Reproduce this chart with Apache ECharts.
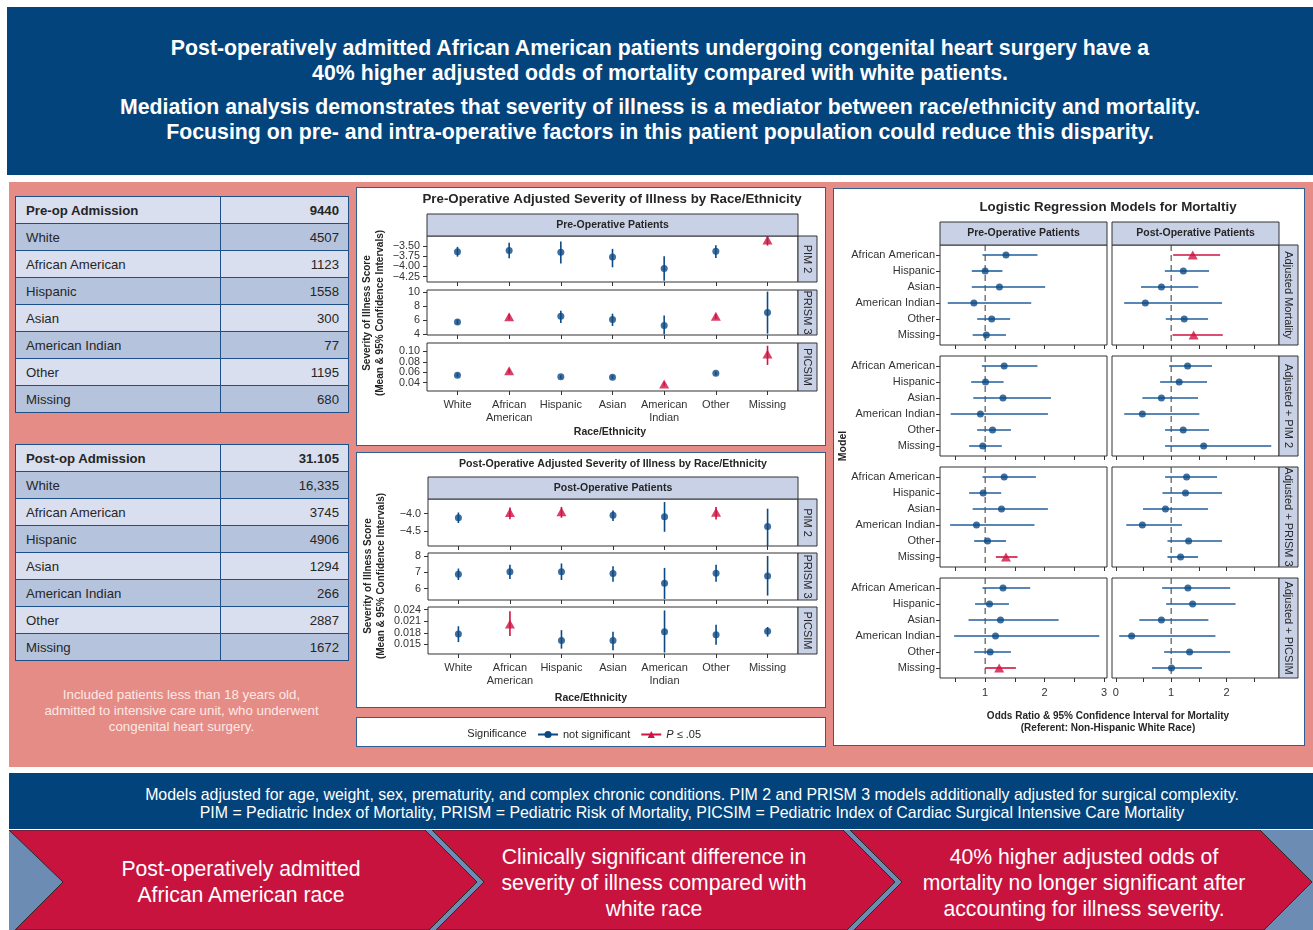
<!DOCTYPE html>
<html>
<head>
<meta charset="utf-8">
<script src="https://cdn.jsdelivr.net/npm/echarts@6/dist/echarts.min.js"></script>
<style>
  html, body { margin: 0; padding: 0; background: #fff; }
  body { width: 1313px; height: 930px; position: relative; overflow: hidden;
         font-family: 'Liberation Sans', Arial, Helvetica, sans-serif; }
  .abs { position: absolute; box-sizing: border-box; }
  #header { left: 7px; top: 7px; width: 1306px; height: 168px; background: #03447d; color: #fff;
            font-weight: bold; font-size: 21.3px; line-height: 25px; text-align: center; }
  #header p { margin: 0; position: absolute; left: 0; width: 100%; }
  #pink { left: 9px; top: 182px; width: 1304px; height: 585px; background: #e58c86; }
  .box { background: #fff; border: 1.5px solid #2e5e94; }
  table.counts { position: absolute; left: 15px; width: 333px; border-collapse: collapse; table-layout: fixed;
                 font-size: 13.2px; color: #262626; }
  table.counts td { height: 26px; border: 1.5px solid #1d4f89; padding: 0 9px 0 10px; white-space: nowrap; }
  table.counts td.n { text-align: right; }
  table.counts tr.lt td { background: #d9dfee; }
  table.counts tr.dk td { background: #b6c3dd; }
  table.counts tr.hd td { font-weight: bold; }
  #note { left: 15px; top: 687px; width: 333px; text-align: center; color: #fde8e5; font-size: 13.3px; line-height: 16px; }
  #banner { left: 9px; top: 773px; width: 1304px; height: 56px; background: #03437c; color: #fff;
            font-size: 15.9px; line-height: 18px; text-align: center; padding: 13px 0 0 62px; }
  #chev { position: absolute; left: 0; top: 830px; }
  #chart { position: absolute; left: 0; top: 0; width: 1313px; height: 930px; }
</style>
</head>
<body>
<div id="header" class="abs">
  <p style="top:28.5px">Post-operatively admitted African American patients undergoing congenital heart surgery have a<br>40% higher adjusted odds of mortality compared with white patients.</p>
  <p style="top:88px">Mediation analysis demonstrates that severity of illness is a mediator between race/ethnicity and mortality.<br>Focusing on pre- and intra-operative factors in this patient population could reduce this disparity.</p>
</div>
<div id="pink" class="abs"></div>
<div class="abs box" style="left:356px;top:187px;width:470px;height:259px"></div>
<div class="abs box" style="left:356px;top:452px;width:470px;height:256px"></div>
<div class="abs box" style="left:356px;top:717px;width:470px;height:30px"></div>
<div class="abs box" style="left:833px;top:188px;width:472px;height:558px"></div>
<div id="tables"></div>
<div id="note" class="abs">Included patients less than 18 years old,<br>admitted to intensive care unit, who underwent<br>congenital heart surgery.</div>
<div id="banner" class="abs">Models adjusted for age, weight, sex, prematurity, and complex chronic conditions. PIM 2 and PRISM 3 models additionally adjusted for surgical complexity.<br>PIM = Pediatric Index of Mortality, PRISM = Pediatric Risk of Mortality, PICSIM = Pediatric Index of Cardiac Surgical Intensive Care Mortality</div>
<svg id="chev" width="1313" height="100" xmlns="http://www.w3.org/2000/svg">
  <rect x="9" y="0" width="1304" height="100" fill="#6d8cb3"/>
  <g fill="#c9133f" stroke="#2a2a2a" stroke-width="1">
    <polygon points="9,0 425,0 477,52 429,100 15,100 63,52"/>
    <polygon points="432,0 843,0 895,52 847,100 436,100 484,52"/>
    <polygon points="850,0 1260,0 1312,52 1264,100 854,100 902,52"/>
  </g>
  <g fill="#fff" font-family="'Liberation Sans', Arial, Helvetica, sans-serif" font-size="21.2" text-anchor="middle" dominant-baseline="central">
    <text x="241" y="38">Post-operatively admitted</text>
    <text x="241" y="64">African American race</text>
    <text x="654" y="26">Clinically significant difference in</text>
    <text x="654" y="52">severity of illness compared with</text>
    <text x="654" y="78">white race</text>
    <text x="1084" y="26">40% higher adjusted odds of</text>
    <text x="1084" y="52">mortality no longer significant after</text>
    <text x="1084" y="78">accounting for illness severity.</text>
  </g>
</svg>
<div id="chart"></div>
<script>
// ---------- admission counts ----------
const races = ['White', 'African American', 'Hispanic', 'Asian', 'American Indian', 'Other', 'Missing'];
const preopTitle = 'Pre-op Admission';
const preopTotal = '9440';
const preopCounts = ['4507', '1123', '1558', '300', '77', '1195', '680'];
const postopTitle = 'Post-op Admission';
const postopTotal = '31.105';
const postopCounts = ['16,335', '3745', '4906', '1294', '266', '2887', '1672'];

// ---------- adjusted severity of illness: rows are [mean, lower CI, upper CI, P <= .05] ----------
const raceAxisLabels = ['White', 'African\nAmerican', 'Hispanic', 'Asian', 'American\nIndian', 'Other', 'Missing'];
const prePim2 = [[-3.64, -3.76, -3.52, 0], [-3.61, -3.80, -3.42, 0], [-3.65, -3.93, -3.39, 0], [-3.77, -4.02, -3.57, 0],
                 [-4.05, -4.35, -3.75, 0], [-3.63, -3.79, -3.48, 0], [-3.35, -3.49, -3.25, 1]];
const prePrism3 = [[5.76, 5.40, 6.10, 0], [6.50, 6.10, 6.90, 1], [6.57, 5.62, 7.38, 0], [6.10, 5.20, 6.95, 0],
                   [5.24, 4.00, 6.67, 0], [6.57, 6.20, 6.90, 1], [7.10, 4.10, 10.10, 0]];
const prePicsim = [[0.054, 0.051, 0.058, 0], [0.063, 0.058, 0.067, 1], [0.051, 0.048, 0.054, 0], [0.050, 0.047, 0.054, 0],
                   [0.037, 0.034, 0.041, 1], [0.058, 0.054, 0.061, 0], [0.095, 0.074, 0.111, 1]];
const postPim2 = [[-4.12, -4.27, -3.97, 0], [-3.97, -4.16, -3.83, 1], [-3.95, -4.12, -3.81, 1], [-4.05, -4.21, -3.91, 0],
                  [-4.09, -4.52, -3.67, 0], [-3.96, -4.17, -3.81, 1], [-4.37, -4.95, -3.86, 0]];
const postPrism3 = [[6.89, 6.53, 7.23, 0], [7.03, 6.59, 7.47, 0], [7.03, 6.53, 7.54, 0], [6.93, 6.42, 7.37, 0],
                    [6.34, 5.37, 7.27, 0], [6.95, 6.42, 7.47, 0], [6.77, 5.58, 8.00, 0]];
const postPicsim = [[0.0177, 0.0156, 0.0197, 0], [0.0203, 0.0172, 0.0236, 1], [0.0160, 0.0139, 0.0187, 0], [0.0160, 0.0135, 0.0183, 0],
                    [0.0183, 0.0129, 0.0238, 0], [0.0175, 0.0149, 0.0201, 0], [0.0184, 0.0170, 0.0195, 0]];
const prePim2Ticks = [-4.25, -4.00, -3.75, -3.50];
const prePrism3Ticks = [4, 6, 8, 10];
const prePicsimTicks = [0.04, 0.06, 0.08, 0.10];
const postPim2Ticks = [-4.5, -4.0];
const postPrism3Ticks = [6, 7, 8];
const postPicsimTicks = [0.015, 0.018, 0.021, 0.024];

// ---------- logistic regression: rows are [odds ratio, lower CI, upper CI, P <= .05] ----------
const modelRaces = ['African American', 'Hispanic', 'Asian', 'American Indian', 'Other', 'Missing'];
const preAdjusted = [[1.35, 0.955, 1.88, 0], [1.00, 0.775, 1.29, 0], [1.24, 0.775, 2.01, 0], [0.81, 0.37, 1.775, 0],
                     [1.11, 0.865, 1.42, 0], [1.02, 0.79, 1.35, 0]];
const postAdjusted = [[1.39, 1.036, 1.885, 1], [1.22, 0.885, 1.685, 0], [0.824, 0.455, 1.49, 0], [0.533, 0.15, 1.92, 0],
                      [1.236, 0.903, 1.667, 0], [1.406, 1.024, 1.933, 1]];
const prePim2Model = [[1.32, 0.944, 1.88, 0], [1.006, 0.764, 1.31, 0], [1.30, 0.80, 2.107, 0], [0.92, 0.42, 2.056, 0],
                      [1.124, 0.865, 1.433, 0], [0.96, 0.73, 1.28, 0]];
const postPim2Model = [[1.297, 0.964, 1.739, 0], [1.145, 0.80, 1.648, 0], [0.824, 0.479, 1.485, 0], [0.479, 0.152, 1.509, 0],
                       [1.218, 0.89, 1.685, 0], [1.588, 0.89, 2.81, 0]];
const prePrism3Model = [[1.32, 0.955, 1.854, 0], [0.966, 0.73, 1.27, 0], [1.275, 0.79, 2.056, 0], [0.854, 0.41, 1.83, 0],
                        [1.04, 0.815, 1.35, 0], [1.35, 1.18, 1.545, 1]];
const postPrism3Model = [[1.279, 0.89, 1.83, 0], [1.26, 0.842, 1.92, 0], [0.897, 0.49, 1.667, 0], [0.479, 0.188, 1.194, 0],
                         [1.315, 0.933, 1.92, 0], [1.17, 0.933, 1.485, 0]];
const prePicsimModel = [[1.30, 0.955, 1.758, 0], [1.073, 0.83, 1.40, 0], [1.258, 0.72, 2.236, 0], [1.174, 0.478, 2.92, 0],
                        [1.084, 0.815, 1.433, 0], [1.236, 1.00, 1.517, 1]];
const postPicsimModel = [[1.303, 0.836, 2.067, 0], [1.388, 0.909, 2.164, 0], [0.824, 0.424, 1.673, 0], [0.285, 0.06, 1.80, 0],
                         [1.333, 0.873, 2.067, 0], [1.006, 0.655, 1.558, 0]];
const referentOR = 1;
const preOrTicks = [0.5, 1, 1.5, 2, 2.5, 3];
const preOrLabels = [1, 2, 3];
const postOrTicks = [0, 0.5, 1, 1.5, 2, 2.5];
const postOrLabels = [0, 1, 2];

// ---------- count tables ----------
function buildTable(top, title, total, counts) {
  const rows = [`<tr class="lt hd"><td>${title}</td><td class="n">${total}</td></tr>`];
  races.forEach((r, i) => {
    rows.push(`<tr class="${i % 2 === 0 ? 'dk' : 'lt'}"><td>${r}</td><td class="n">${counts[i]}</td></tr>`);
  });
  return `<table class="counts" style="top:${top}px"><colgroup><col style="width:205px"><col style="width:128px"></colgroup>${rows.join('')}</table>`;
}
document.getElementById('tables').innerHTML =
  buildTable(196, preopTitle, preopTotal, preopCounts) + buildTable(444, postopTitle, postopTotal, postopCounts);

// ---------- charts ----------
const BLUE = '#0c4a86', RED = '#d01342', CI_BLUE = '#215f9d', INK = '#262626', STRIP = '#c9d1e6';
const FONT = "'Liberation Sans', Arial, Helvetica, sans-serif";
const grids = [], xAxes = [], yAxes = [], series = [], graphics = [];
const sevPanels = [];

const tickFmt = dec => v => v.toFixed(dec).replace('-', '\u2212');
const noLine = { show: false, onZero: false };

function text(x, y, str, opts, list) {
  (list || graphics).push(Object.assign({
    type: 'text', x: x, y: y, z: 50,
    style: Object.assign({ text: str, fontFamily: FONT, fontSize: 11, fill: INK, align: 'center', verticalAlign: 'middle' }, opts && opts.style)
  }, opts && opts.el));
}
function strip(x, y, w, h, label, vertical, bold) {
  graphics.push({ type: 'rect', z: 40, shape: { x: x, y: y, width: w, height: h },
                  style: { fill: STRIP, stroke: '#333', lineWidth: 1 } });
  text(x + w / 2, y + h / 2, label, {
    style: { fontWeight: bold ? 'bold' : 'normal', fontSize: bold ? 10.5 : 11 },
    el: vertical ? { rotation: -Math.PI / 2 } : {}
  });
}
function baseGrid(l, t, w, h) {
  grids.push({ left: l, top: t, width: w, height: h, show: true, backgroundColor: '#fff', borderColor: '#333', borderWidth: 1 });
  return grids.length - 1;
}
const axisTxt = { fontSize: 11, fontFamily: FONT, color: '#333', hideOverlap: false, showMinLabel: true, showMaxLabel: true };

// error bar drawn as a line between two data points; horizontal for odds ratios
function errorBars(k, data, horizontal, blue) {
  series.push({
    type: 'custom', xAxisIndex: k, yAxisIndex: k, clip: true, silent: true, z: 2,
    data: data,
    renderItem: (params, api) => {
      const a = horizontal ? api.coord([api.value(0), api.value(2)]) : api.coord([api.value(0), api.value(1)]);
      const b = horizontal ? api.coord([api.value(1), api.value(2)]) : api.coord([api.value(0), api.value(2)]);
      return { type: 'line', shape: { x1: a[0], y1: a[1], x2: b[0], y2: b[1] },
               style: { stroke: api.value(3) ? RED : blue, lineWidth: 1.6 } };
    }
  });
}
function markers(k, pts) {
  series.push({ type: 'scatter', xAxisIndex: k, yAxisIndex: k, silent: true, z: 3, symbol: 'circle', symbolSize: 7,
                itemStyle: { color: BLUE }, data: pts.filter(p => !p[2]).map(p => [p[0], p[1]]) });
  series.push({ type: 'scatter', xAxisIndex: k, yAxisIndex: k, silent: true, z: 3, symbol: 'triangle', symbolSize: [10, 9],
                itemStyle: { color: RED }, data: pts.filter(p => p[2]).map(p => [p[0], p[1]]) });
}

const raceIdx = races.map((_, i) => i);
function severityPanel(p) {
  const k = baseGrid(p.left, p.top, p.width, p.height);
  p.k = k;
  sevPanels.push(p);
  xAxes.push({ type: 'value', gridIndex: k, min: -0.59, max: 6.59, axisLine: noLine, splitLine: { show: false },
    axisTick: { show: true, length: 4, customValues: raceIdx, lineStyle: { color: '#333' } },
    axisLabel: Object.assign({ show: !!p.last, customValues: raceIdx, formatter: v => raceAxisLabels[Math.round(v)],
                               lineHeight: 13, margin: 7 }, axisTxt) });
  // tick labels sit closer together than the axis allows, so they are laid out below from the same scale
  yAxes.push({ type: 'value', gridIndex: k, min: p.min, max: p.max, axisLine: noLine, splitLine: { show: false },
    axisTick: { show: true, length: 4, customValues: p.ticks, lineStyle: { color: '#333' } },
    axisLabel: { show: false } });
  errorBars(k, p.data.map((r, i) => [i, r[1], r[2], r[3]]), false, BLUE);
  markers(k, p.data.map((r, i) => [i, r[0], r[3]]));
  strip(p.left + p.width, p.top, 19, p.height, p.label, true, false);
}

function forestPanel(p) {
  const k = baseGrid(p.left, p.top, 167, 100);
  const pre = p.side === 'pre';
  const ticks = pre ? preOrTicks : postOrTicks;
  xAxes.push({ type: 'value', gridIndex: k, min: pre ? 0.24 : -0.07, max: pre ? 3.05 : 2.95,
    axisLine: noLine, splitLine: { show: false },
    axisTick: { show: true, length: 4, customValues: ticks, lineStyle: { color: '#333' } },
    axisLabel: Object.assign({ show: !!p.last, customValues: pre ? preOrLabels : postOrLabels, margin: 9 }, axisTxt) });
  const rowIdx = modelRaces.map((_, i) => i);
  yAxes.push({ type: 'value', gridIndex: k, inverse: true, min: -0.625, max: 5.625,
    axisLine: noLine, splitLine: { show: false },
    axisTick: { show: pre, length: 4, customValues: rowIdx, lineStyle: { color: '#333' } },
    axisLabel: Object.assign({ show: pre, customValues: rowIdx, formatter: v => modelRaces[Math.round(v)], margin: 5 }, axisTxt) });
  series.push({ type: 'line', xAxisIndex: k, yAxisIndex: k, silent: true, z: 1, symbol: 'none',
    lineStyle: { color: '#555', width: 1.2, type: [6, 4] },
    data: [[referentOR, -0.625], [referentOR, 5.625]] });
  errorBars(k, p.data.map((r, i) => [r[1], r[2], i, r[3]]), true, CI_BLUE);
  markers(k, p.data.map((r, i) => [r[0], i, r[3]]));
  if (!pre) strip(1279, p.top, 19, 100, p.label, true, false);
}

// pre-operative severity of illness
severityPanel({ data: prePim2, ticks: prePim2Ticks, dec: 2, min: -4.38, max: -3.255, left: 427, top: 236, width: 371, height: 46, label: 'PIM 2' });
severityPanel({ data: prePrism3, ticks: prePrism3Ticks, dec: 0, min: 3.9, max: 10.33, left: 427, top: 290, width: 371, height: 45, label: 'PRISM 3' });
severityPanel({ data: prePicsim, ticks: prePicsimTicks, dec: 2, min: 0.0237, max: 0.1163, left: 427, top: 343, width: 371, height: 48, label: 'PICSIM', last: true });
// post-operative severity of illness
severityPanel({ data: postPim2, ticks: postPim2Ticks, dec: 1, min: -4.925, max: -3.585, left: 428, top: 499, width: 370, height: 47, label: 'PIM 2' });
severityPanel({ data: postPrism3, ticks: postPrism3Ticks, dec: 0, min: 5.31, max: 8.18, left: 428, top: 553, width: 370, height: 47, label: 'PRISM 3' });
severityPanel({ data: postPicsim, ticks: postPicsimTicks, dec: 3, min: 0.01251, max: 0.02469, left: 428, top: 607, width: 370, height: 47, label: 'PICSIM', last: true });

// odds ratio models
const modelRows = [
  ['Adjusted Mortality', preAdjusted, postAdjusted, 245],
  ['Adjusted + PIM 2', prePim2Model, postPim2Model, 356],
  ['Adjusted + PRISM 3', prePrism3Model, postPrism3Model, 467],
  ['Adjusted + PICSIM', prePicsimModel, postPicsimModel, 578]
];
modelRows.forEach((m, i) => {
  const last = i === modelRows.length - 1;
  forestPanel({ side: 'pre', data: m[1], top: m[3], left: 940, last: last, label: m[0] });
  forestPanel({ side: 'post', data: m[2], top: m[3], left: 1112, last: last, label: m[0] });
});

// titles, strips and axis names
text(612, 199, 'Pre-Operative Adjusted Severity of Illness by Race/Ethnicity', { style: { fontWeight: 'bold', fontSize: 13.3 } });
strip(427, 214, 371, 22, 'Pre-Operative Patients', false, true);
text(610, 432, 'Race/Ethnicity', { style: { fontWeight: 'bold', fontSize: 10.5 } });
text(367, 313, 'Severity of Illness Score', { style: { fontWeight: 'bold', fontSize: 10 }, el: { rotation: Math.PI / 2 } });
text(380, 313, '(Mean & 95% Confidence Intervals)', { style: { fontWeight: 'bold', fontSize: 10 }, el: { rotation: Math.PI / 2 } });

text(613, 464, 'Post-Operative Adjusted Severity of Illness by Race/Ethnicity', { style: { fontWeight: 'bold', fontSize: 10.6 } });
strip(428, 477, 370, 22, 'Post-Operative Patients', false, true);
text(591, 698, 'Race/Ethnicity', { style: { fontWeight: 'bold', fontSize: 10.5 } });
text(368, 576, 'Severity of Illness Score', { style: { fontWeight: 'bold', fontSize: 10 }, el: { rotation: Math.PI / 2 } });
text(381, 576, '(Mean & 95% Confidence Intervals)', { style: { fontWeight: 'bold', fontSize: 10 }, el: { rotation: Math.PI / 2 } });

text(1108, 207, 'Logistic Regression Models for Mortaltiy', { style: { fontWeight: 'bold', fontSize: 13.3 } });
strip(940, 222, 167, 23, 'Pre-Operative Patients', false, true);
strip(1112, 222, 167, 23, 'Post-Operative Patients', false, true);
text(843, 446, 'Model', { style: { fontWeight: 'bold', fontSize: 10.5 }, el: { rotation: Math.PI / 2 } });
text(1108, 716, 'Odds Ratio & 95% Confidence Interval for Mortality', { style: { fontWeight: 'bold', fontSize: 10 } });
text(1108, 728, '(Referent: Non-Hispanic White Race)', { style: { fontWeight: 'bold', fontSize: 10 } });

// significance legend
text(497, 734, 'Significance', { style: { fontSize: 11 } });
series.push({ type: 'line', name: 'not significant', xAxisIndex: 0, yAxisIndex: 0, data: [], symbol: 'circle', symbolSize: 7,
              itemStyle: { color: BLUE }, lineStyle: { color: BLUE, width: 1.5 } });
series.push({ type: 'line', name: 'P \u2264 .05', xAxisIndex: 0, yAxisIndex: 0, data: [], symbol: 'triangle', symbolSize: [10, 9],
              itemStyle: { color: RED }, lineStyle: { color: RED, width: 1.5 } });

const chart = echarts.init(document.getElementById('chart'));
chart.setOption({
  animation: false,
  grid: grids, xAxis: xAxes, yAxis: yAxes, series: series,
  legend: {
    left: 532, top: 724, itemWidth: 20, itemHeight: 9, itemGap: 10,
    data: ['not significant', 'P \u2264 .05'], selectedMode: false,
    textStyle: { fontSize: 11, fontFamily: FONT, color: INK, rich: { i: { fontStyle: 'italic', fontSize: 11, fontFamily: FONT, color: INK } } },
    formatter: n => n.charAt(0) === 'P' ? '{i|P} \u2264 .05' : n
  },
  graphic: graphics
});

// severity score tick labels, positioned through each panel's y scale
const tickLabels = [];
sevPanels.forEach(p => {
  const fmt = tickFmt(p.dec);
  p.ticks.forEach(v => {
    const y = chart.convertToPixel({ yAxisIndex: p.k }, v);
    text(p.left - 7, y, fmt(v), { style: { fontSize: 10.8, fill: '#333', align: 'right' } }, tickLabels);
  });
});
chart.setOption({ graphic: graphics.concat(tickLabels) });
</script>
</body>
</html>
